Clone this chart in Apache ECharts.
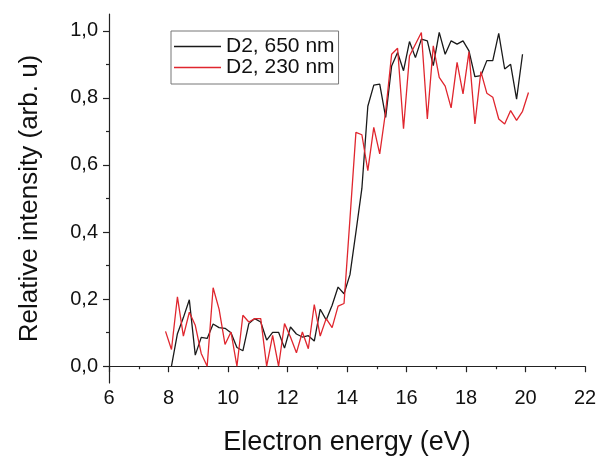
<!DOCTYPE html>
<html>
<head>
<meta charset="utf-8">
<script src="https://cdn.jsdelivr.net/npm/echarts@6/dist/echarts.min.js"></script>
<style>
html,body{margin:0;padding:0;background:#fff;}
#chart{width:597px;height:459px;}
</style>
</head>
<body>
<div id="chart"></div>
<script>
// Data
const seriesNames = ['D2, 650 nm', 'D2, 230 nm'];
const xBlack = [8.1,8.3,8.5,8.7,8.9,9.1,9.3,9.5,9.7,9.9,10.1,10.3,10.5,10.7,10.9,11.1,11.3,11.5,11.7,11.9,12.1,12.3,12.5,12.7,12.9,13.1,13.3,13.5,13.7,13.9,14.1,14.3,14.5,14.7,14.9,15.1,15.3,15.5,15.7,15.9,16.1,16.3,16.5,16.7,16.9,17.1,17.3,17.5,17.7,17.9,18.1,18.3,18.5,18.7,18.9,19.1,19.3,19.5,19.7,19.9];
const yBlack = [0.0,0.097,0.145,0.198,0.033,0.086,0.083,0.126,0.115,0.113,0.100,0.056,0.046,0.127,0.142,0.132,0.078,0.101,0.101,0.054,0.117,0.096,0.087,0.091,0.075,0.17,0.138,0.182,0.236,0.216,0.273,0.40,0.53,0.775,0.838,0.841,0.742,0.895,0.935,0.881,0.968,0.92,0.975,0.97,0.896,0.995,0.93,0.97,0.96,0.97,0.94,0.863,0.866,0.911,0.911,0.992,0.886,0.90,0.796,0.93];
const xRed = [7.9,8.1,8.3,8.5,8.7,8.9,9.1,9.3,9.5,9.7,9.9,10.1,10.3,10.5,10.7,10.9,11.1,11.3,11.5,11.7,11.9,12.1,12.3,12.5,12.7,12.9,13.1,13.3,13.5,13.7,13.9,14.1,14.3,14.5,14.7,14.9,15.1,15.3,15.5,15.7,15.9,16.1,16.3,16.5,16.7,16.9,17.1,17.3,17.5,17.7,17.9,18.1,18.3,18.5,18.7,18.9,19.1,19.3,19.5,19.7,19.9,20.1];
const yRed = [0.104,0.05,0.207,0.09,0.161,0.122,0.038,0.0,0.234,0.17,0.065,0.102,0.0,0.152,0.132,0.142,0.142,0.0,0.092,0.0,0.127,0.087,0.04,0.102,0.052,0.184,0.09,0.142,0.115,0.179,0.187,0.44,0.697,0.69,0.583,0.712,0.633,0.76,0.93,0.948,0.708,0.925,0.96,0.995,0.737,0.955,0.861,0.835,0.77,0.906,0.812,0.937,0.722,0.878,0.814,0.802,0.737,0.722,0.762,0.733,0.76,0.816];
const yMajorTicks = [0, 0.2, 0.4, 0.6, 0.8, 1.0];
const yMinorTicks = [0.1, 0.3, 0.5, 0.7, 0.9];
const xTitle = 'Electron energy (eV)';
const yTitle = 'Relative intensity (arb. u)';

const FONT = '"Liberation Sans", Arial, sans-serif';
const AX = '#222';
const zip = (xs, ys) => xs.map((x, i) => [x, ys[i]]);

const chart = echarts.init(document.getElementById('chart'), null, {renderer: 'canvas'});
chart.setOption({
  animation: false,
  backgroundColor: '#fff',
  textStyle: {fontFamily: FONT},
  grid: {left: 109, right: 12, top: 14, bottom: 76, containLabel: false, outerBoundsMode: 'none'},
  legend: {
    orient: 'vertical',
    left: 171, top: 31,
    padding: [5, 4, 6, 3],
    itemGap: 0,
    itemWidth: 47, itemHeight: 1.5,
    icon: 'rect',
    borderColor: '#777', borderWidth: 1,
    textStyle: {fontFamily: FONT, fontSize: 21, color: '#111', lineHeight: 20},
    data: seriesNames
  },
  xAxis: {
    type: 'value', min: 6, max: 22, interval: 2,
    name: xTitle, nameLocation: 'middle', nameGap: 46,
    nameTextStyle: {fontFamily: FONT, fontSize: 27, color: '#111'},
    axisLine: {show: true, lineStyle: {color: AX, width: 1.2}},
    axisTick: {show: true, inside: false, length: 6, lineStyle: {color: AX, width: 1.2}},
    minorTick: {show: true, splitNumber: 2, length: 3, lineStyle: {color: AX, width: 1.2}},
    axisLabel: {fontFamily: FONT, fontSize: 20, color: '#111', margin: 5},
    splitLine: {show: false}
  },
  yAxis: [{
    type: 'value', min: -0.05, max: 1.05,
    name: yTitle, nameLocation: 'middle', nameGap: 66,
    nameTextStyle: {fontFamily: FONT, fontSize: 26, color: '#111'},
    axisLine: {show: true, lineStyle: {color: AX, width: 1.2}},
    axisTick: {show: true, length: 6, customValues: yMajorTicks, lineStyle: {color: AX, width: 1.2}},
    axisLabel: {fontFamily: FONT, fontSize: 20, color: '#111', margin: 11,
      customValues: yMajorTicks,
      formatter: v => v.toFixed(1).replace('.', ',')},
    splitLine: {show: false}
  }, {
    type: 'value', min: -0.05, max: 1.05, position: 'left',
    axisLine: {show: false},
    axisTick: {show: true, length: 3, customValues: yMinorTicks, lineStyle: {color: AX, width: 1.2}},
    axisLabel: {show: false},
    splitLine: {show: false}
  }],
  series: [{
    name: seriesNames[0], type: 'line', yAxisIndex: 0,
    data: zip(xBlack, yBlack), symbol: 'none',
    lineStyle: {color: '#1a1a1a', width: 1.3}, itemStyle: {color: '#1a1a1a'}
  }, {
    name: seriesNames[1], type: 'line', yAxisIndex: 0,
    data: zip(xRed, yRed), symbol: 'none',
    lineStyle: {color: '#e0262e', width: 1.3}, itemStyle: {color: '#e0262e'}
  }]
});
</script>
</body>
</html>
